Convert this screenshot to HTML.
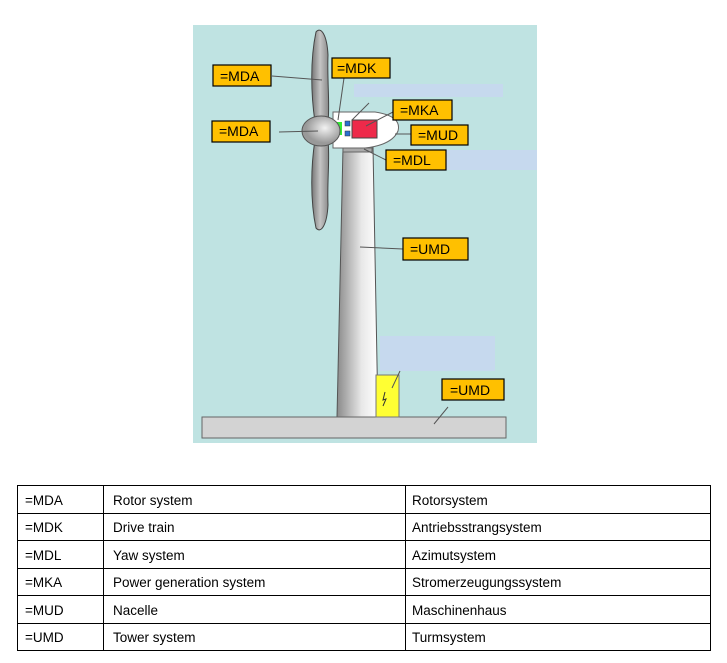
<!DOCTYPE html>
<html><head><meta charset="utf-8"><style>
body{margin:0;width:727px;height:663px;background:#fff;position:relative;font-family:"Liberation Sans",Arial,sans-serif;overflow:hidden}
svg{position:absolute;left:0;top:0}
table{position:absolute;left:17px;top:485px;width:694px;border-collapse:collapse;font-size:13.5px;table-layout:fixed}
td{border:1px solid #000;height:27.5px;padding:3px 0 0 6px;vertical-align:middle;line-height:14px;box-sizing:border-box}
td:first-child{width:86px;padding-left:7px}
td:nth-child(2){width:302px;padding-left:9px}
</style></head><body>
<svg width="727" height="470" viewBox="0 0 727 470">
<defs>
<linearGradient id="g" x1="0" x2="1"><stop offset="0" stop-color="#8a8a8a"/><stop offset="0.6" stop-color="#e8e8e8"/><stop offset="1" stop-color="#fff"/></linearGradient>
<linearGradient id="b" x1="0" x2="1"><stop offset="0" stop-color="#777"/><stop offset="0.5" stop-color="#c4c4c4"/><stop offset="1" stop-color="#888"/></linearGradient>
<radialGradient id="h" cx="0.6" cy="0.4"><stop offset="0" stop-color="#f2f2f2"/><stop offset="1" stop-color="#999"/></radialGradient>
</defs>
<rect x="193" y="25" width="344" height="418" fill="#bfe3e2"/>
<rect x="354" y="84" width="149" height="13" fill="#c6d9ee"/>
<rect x="446" y="150" width="91" height="20" fill="#c6d9ee"/>
<rect x="380" y="336" width="115" height="35" fill="#c6d9ee"/>
<path d="M343,147 L373,147 L378,417 L337,417 Z" fill="url(#g)" stroke="#555"/>
<path d="M202,417 L506,417 L506,438 L202,438 Z" fill="#d3d3d3" stroke="#666"/>
<rect x="376" y="375" width="23" height="42" fill="#ffff33" stroke="#777"/>
<path d="M385,392 L383,400 L386,399 L383,406" stroke="#333" fill="none"/>
<path d="M315,122 C311,95 310,60 316,32 C321,26 327,35 328,55 C327,80 330,105 328,122 Z" fill="url(#b)" stroke="#444"/>
<path d="M315,140 C311,165 310,200 316,228 C321,234 327,225 328,205 C327,180 330,160 328,140 Z" fill="url(#b)" stroke="#444"/>
<path d="M333,112 L375,112 Q402,116 398,131 Q392,145 365,148 L333,148 Z" fill="#fff" stroke="#666"/>
<path d="M343,152 L372,152 L372,148 L343,148 Z" fill="#aaa" stroke="#666"/>
<rect x="333" y="122" width="9" height="13" fill="#33ee33"/>
<rect x="345" y="121" width="5" height="5" fill="#2a6fd0" stroke="#333" stroke-width=".5"/>
<rect x="345" y="131" width="5" height="5" fill="#2a6fd0" stroke="#333" stroke-width=".5"/>
<rect x="352" y="120" width="25" height="18" fill="#ee2a4a" stroke="#444"/>
<ellipse cx="321" cy="131" rx="19" ry="15" fill="url(#h)" stroke="#555"/>
<g stroke="#555" stroke-width="1">
<line x1="272" y1="76" x2="322" y2="80"/>
<line x1="279" y1="132" x2="318" y2="131"/>
<line x1="344" y1="78" x2="338" y2="120"/>
<line x1="369" y1="103" x2="352" y2="120"/>
<line x1="393" y1="112" x2="366" y2="126"/>
<line x1="411" y1="134" x2="395" y2="134"/>
<line x1="386" y1="160" x2="364" y2="149"/>
<line x1="403" y1="249" x2="360" y2="247"/>
<line x1="400" y1="371" x2="392" y2="388"/>
<line x1="448" y1="407" x2="434" y2="424"/>
</g>
<g fill="#ffc000" stroke="#000" stroke-width="1.2">
<rect x="213" y="65" width="58" height="21"/>
<rect x="332" y="58" width="58" height="20"/>
<rect x="393" y="100" width="59" height="20"/>
<rect x="411" y="125" width="57" height="20"/>
<rect x="386" y="150" width="60" height="20"/>
<rect x="212" y="121" width="58" height="21"/>
<rect x="403" y="238" width="65" height="22"/>
<rect x="442" y="379" width="62" height="21"/>
</g>
<g font-family="Liberation Sans, Arial, sans-serif" font-size="14" fill="#000">
<text x="220" y="81">=MDA</text>
<text x="337" y="73">=MDK</text>
<text x="400" y="115">=MKA</text>
<text x="418" y="140">=MUD</text>
<text x="393" y="165">=MDL</text>
<text x="219" y="136">=MDA</text>
<text x="410" y="254">=UMD</text>
<text x="450" y="395">=UMD</text>
</g>
</svg>
<table>
<tr><td>=MDA</td><td>Rotor system</td><td>Rotorsystem</td></tr>
<tr><td>=MDK</td><td>Drive train</td><td>Antriebsstrangsystem</td></tr>
<tr><td>=MDL</td><td>Yaw system</td><td>Azimutsystem</td></tr>
<tr><td>=MKA</td><td>Power generation system</td><td>Stromerzeugungssystem</td></tr>
<tr><td>=MUD</td><td>Nacelle</td><td>Maschinenhaus</td></tr>
<tr><td>=UMD</td><td>Tower system</td><td>Turmsystem</td></tr>
</table>
</body></html>
